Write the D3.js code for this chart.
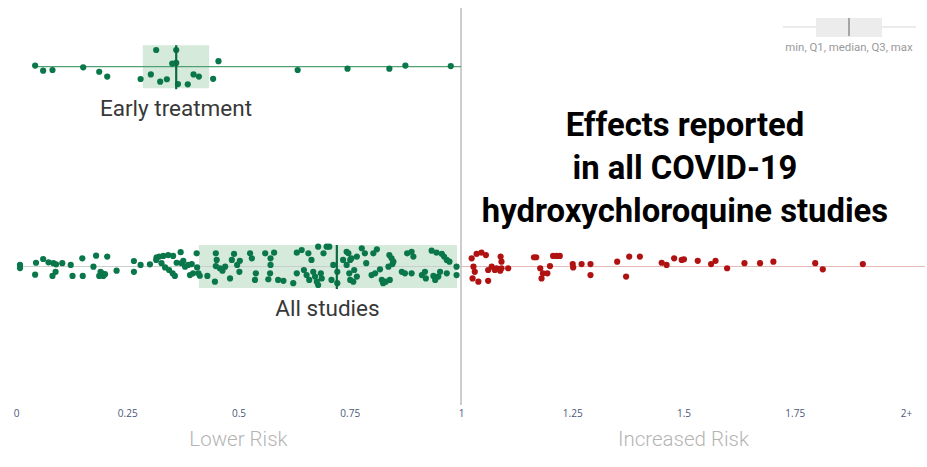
<!DOCTYPE html>
<html>
<head>
<meta charset="utf-8">
<script src="https://cdn.jsdelivr.net/npm/d3@7/dist/d3.min.js"></script>
<style>
  html, body { margin: 0; padding: 0; background: #fff; }
  svg { display: block; font-family: Roboto, "Noto Sans", sans-serif; }
</style>
</head>
<body>
<svg id="chart" width="927" height="467"></svg>
<script>
// ---------- data ----------
const groups = ["Early treatment", "All studies"];
const tickValues = [0, 0.25, 0.5, 0.75, 1, 1.25, 1.5, 1.75, 2];
const tickLabels = ["0", "0.25", "0.5", "0.75", "1", "1.25", "1.5", "1.75", "2+"];
const sideLabels = ["Lower Risk", "Increased Risk"];
const sideLabelValues = [0.5, 1.5];
const titleLines = ["Effects reported", "in all COVID-19", "hydroxychloroquine studies"];
const legendText = "min, Q1, median, Q3, max";

// early treatment: relative risk and vertical jitter (-1..1)
const earlyValues = [0.043, 0.061, 0.082, 0.151, 0.187, 0.205, 0.280, 0.303, 0.315, 0.324, 0.339, 0.351, 0.360, 0.360, 0.364, 0.386, 0.399, 0.411, 0.443, 0.455, 0.633, 0.745, 0.839, 0.875, 0.977];
const earlyJitter = [-0.05, 0.18, 0.15, 0.03, 0.23, 0.45, 0.56, 0.35, -0.76, 0.68, 0.57, -0.14, -0.17, -0.76, 0.79, 0.80, 0.35, 0.45, 0.55, -0.25, 0.15, 0.09, 0.09, -0.05, -0.03];
const earlyBox = [0.285, 0.360, 0.434]; // Q1, median, Q3
const earlyLine = [0.038, 1.0];

// all studies
const allValues = [
  0.009, 0.009, 0.045, 0.043, 0.061, 0.073, 0.084, 0.089, 0.082, 0.090, 0.104, 0.123, 0.127, 0.150, 0.149, 0.174, 0.180, 0.205, 0.190, 0.187,
  0.196, 0.193, 0.200, 0.226, 0.265, 0.265, 0.280, 0.301, 0.316, 0.315, 0.322, 0.331, 0.342, 0.353, 0.370, 0.327, 0.335, 0.344, 0.352, 0.357,
  0.361, 0.372, 0.376, 0.380, 0.387, 0.395, 0.391, 0.398, 0.406, 0.407, 0.410, 0.413, 0.430, 0.447, 0.449, 0.451, 0.449, 0.458, 0.464, 0.470,
  0.481, 0.485, 0.490, 0.497, 0.502, 0.503, 0.526, 0.530, 0.539, 0.537, 0.560, 0.572, 0.572, 0.571, 0.567, 0.580, 0.589, 0.601, 0.623, 0.631,
  0.631, 0.642, 0.647, 0.653, 0.657, 0.659, 0.664, 0.668, 0.672, 0.676, 0.679, 0.679, 0.685, 0.687, 0.691, 0.698, 0.704, 0.713, 0.709, 0.722,
  0.722, 0.735, 0.743, 0.747, 0.751, 0.743, 0.749, 0.751, 0.760, 0.766, 0.754, 0.758, 0.766, 0.777, 0.784, 0.787, 0.803, 0.811, 0.818, 0.799,
  0.807, 0.822, 0.825, 0.831, 0.840, 0.839, 0.844, 0.846, 0.837, 0.848, 0.867, 0.874, 0.889, 0.879, 0.889, 0.893, 0.912, 0.919, 0.921, 0.934,
  0.945, 0.957, 0.962, 0.968, 0.974, 0.953, 0.949, 0.942, 0.938, 0.968, 0.990, 0.990,
  1.024, 1.035, 1.046, 1.056, 1.028, 1.031, 1.026, 1.039, 1.061, 1.061, 1.069, 1.076, 1.080, 1.089, 1.091, 1.088, 1.091, 1.106, 1.164, 1.169,
  1.178, 1.184, 1.181, 1.194, 1.200, 1.207, 1.215, 1.222, 1.251, 1.252, 1.271, 1.291, 1.291, 1.351, 1.371, 1.378, 1.402, 1.451, 1.462, 1.479,
  1.496, 1.501, 1.532, 1.562, 1.572, 1.598, 1.637, 1.672, 1.702, 1.796, 1.813, 1.903
];
const allJitter = [
  -0.07, 0.07, -0.17, 0.37, -0.34, -0.19, -0.15, 0.24, 0.43, -0.10, -0.15, -0.07, 0.43, 0.43, -0.37, 0.01, -0.49, -0.45, 0.24, 0.43,
  0.43, 0.31, 0.35, 0.19, -0.25, 0.24, -0.07, -0.10, -0.42, -0.30, -0.45, -0.48, -0.52, -0.48, -0.65, -0.15, 0.04, 0.16, 0.31, 0.43,
  -0.17, -0.15, -0.26, 0.01, -0.07, -0.11, 0.39, 0.31, -0.60, 0.04, 0.31, 0.42, 0.43, 0.69, -0.60, -0.30, -0.02, 0.08, 0.19, 0.01,
  0.54, -0.30, -0.57, -0.07, 0.24, -0.26, -0.60, -0.37, 0.31, 0.61, -0.60, -0.37, -0.07, 0.31, 0.58, -0.63, 0.61, 0.65, 0.76, 0.31,
  -0.63, -0.75, 0.16, 0.39, -0.60, 0.61, -0.30, 0.24, 0.46, 0.69, -0.90, 0.84, 0.31, 0.54, -0.60, -0.90, -0.90, -0.07, 0.61, 0.24,
  0.76, -0.30, -0.67, -0.60, -0.30, -0.07, 0.31, 0.61, 0.16, 0.46, -0.37, 0.69, -0.45, -0.83, -0.60, -0.15, -0.60, -0.78, 0.13, 0.39,
  0.31, 0.61, 0.76, 0.69, 0.61, -0.52, -0.37, -0.11, 0.01, -0.22, 0.24, 0.31, 0.31, -0.60, -0.67, -0.45, 0.39, 0.24, 0.54, -0.72,
  -0.63, -0.57, -0.45, -0.30, -0.22, 0.24, 0.46, 0.61, 0.43, 0.31, 0.01, 0.39,
  -0.37, -0.57, -0.63, -0.52, 0.01, 0.24, 0.54, 0.69, 0.65, 0.16, 0.01, 0.16, 0.08, -0.45, -0.22, 0.19, 0.08, 0.08, -0.42, -0.42,
  0.08, 0.31, 0.54, 0.31, -0.02, -0.48, -0.48, -0.48, -0.11, 0.04, -0.11, -0.11, 0.39, -0.22, 0.46, -0.45, -0.45, -0.17, -0.07, -0.37,
  -0.30, -0.33, -0.26, -0.11, -0.26, 0.08, -0.15, -0.15, -0.22, -0.15, 0.13, -0.11
];
const allBox = [0.411, 0.721, 0.991];
const allLine = [0.005, 1.0, 2.043];

// ---------- drawing ----------
const svg = d3.select("#chart");
const green = "#0a774a", red = "#b01212";

const x = d3.scaleLinear().domain([0, 2]).range([16, 906]);
const y = d3.scalePoint().domain(groups).range([66.7, 266.5]);
const jit = d3.scaleLinear().domain([-1, 1]).range([-22, 22]);
const boxHalf = 21.5;

// divider at 1
svg.append("line")
  .attr("x1", x(1)).attr("x2", x(1))
  .attr("y1", 8).attr("y2", 405)
  .attr("stroke", "#9a9a9a").attr("stroke-width", 1);

// rows
function drawRow(name, values, jitter, box, line, lineColors) {
  const cy = y(name);
  const g = svg.append("g");
  g.append("rect")
    .attr("x", x(box[0])).attr("width", x(box[2]) - x(box[0]))
    .attr("y", cy - boxHalf).attr("height", boxHalf * 2)
    .attr("fill", "#cfe6d6").attr("opacity", 0.85);
  for (let i = 0; i < line.length - 1; i++) {
    g.append("line")
      .attr("x1", x(line[i])).attr("x2", x(line[i + 1]))
      .attr("y1", cy).attr("y2", cy)
      .attr("stroke", lineColors[i]).attr("stroke-width", 1.2);
  }
  g.selectAll("circle").data(values).join("circle")
    .attr("cx", d => x(d))
    .attr("cy", (d, i) => cy + jit(jitter[i]))
    .attr("r", 3.1)
    .attr("fill", d => d > 1 ? red : green);
  g.append("line")
    .attr("x1", x(box[1])).attr("x2", x(box[1]))
    .attr("y1", cy - boxHalf).attr("y2", cy + boxHalf + 1)
    .attr("stroke", "#0a6b40").attr("stroke-width", 2.2);
}
drawRow("Early treatment", earlyValues, earlyJitter, earlyBox, earlyLine, ["#4fa173"]);
drawRow("All studies", allValues, allJitter, allBox, allLine, ["#c9cfcb", "#e6b9b9"]);

// row labels
svg.append("text").attr("x", x(d3.mean([earlyBox[0], earlyBox[2]]))).attr("y", 116)
  .attr("text-anchor", "middle").attr("font-size", 22.5).attr("fill", "#383838")
  .text(groups[0]);
svg.append("text").attr("x", x(0.7)).attr("y", 316)
  .attr("text-anchor", "middle").attr("font-size", 22.5).attr("fill", "#383838")
  .text(groups[1]);

// axis
const axis = d3.axisBottom(x).tickValues(tickValues)
  .tickFormat((d, i) => tickLabels[i]).tickSize(0).tickPadding(0);
const ag = svg.append("g").attr("transform", "translate(0,410)").call(axis);
ag.select(".domain").remove();
ag.selectAll("text").attr("font-size", 10).attr("fill", "#4a5878")
  .attr("font-family", "'Open Sans', sans-serif").attr("dy", "0.71em");

// side labels
svg.selectAll(".side").data(sideLabels).join("text")
  .attr("class", "side")
  .attr("x", (d, i) => x(sideLabelValues[i])).attr("y", 446)
  .attr("text-anchor", "middle").attr("font-size", 20.5).attr("font-weight", 300)
  .attr("fill", "#b4b4b4").text(d => d);

// title
svg.selectAll(".title").data(titleLines).join("text")
  .attr("class", "title")
  .attr("x", 685).attr("y", (d, i) => 136 + i * 43)
  .attr("text-anchor", "middle").attr("font-size", 32.8).attr("font-weight", 700)
  .attr("fill", "#000").text(d => d);

// legend
const lg = svg.append("g");
lg.append("line").attr("x1", 783).attr("x2", 916).attr("y1", 27).attr("y2", 27)
  .attr("stroke", "#d8d8d8").attr("stroke-width", 1);
lg.append("rect").attr("x", 816).attr("y", 18).attr("width", 66).attr("height", 19)
  .attr("fill", "#ececec");
lg.append("line").attr("x1", 849).attr("x2", 849).attr("y1", 18).attr("y2", 36)
  .attr("stroke", "#777").attr("stroke-width", 1.2);
lg.append("text").attr("x", 849).attr("y", 51).attr("text-anchor", "middle")
  .attr("font-size", 11.4).attr("fill", "#999").text(legendText);
</script>
</body>
</html>
